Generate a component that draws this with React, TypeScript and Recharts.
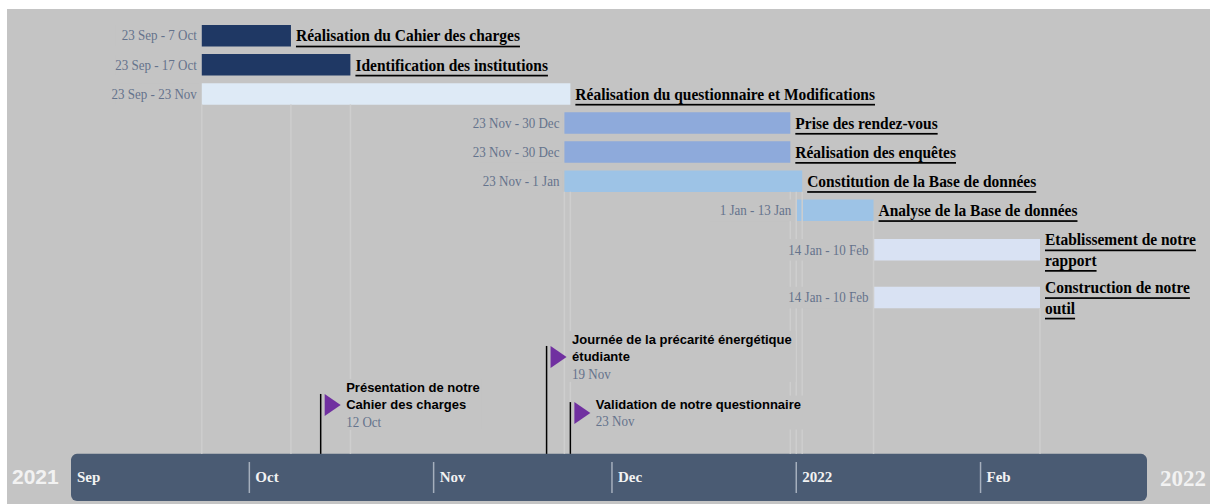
import {
  ComposedChart,
  Bar,
  XAxis,
  YAxis,
  LabelList,
  ReferenceLine,
  ReferenceArea,
  ReferenceDot,
} from "recharts";

// days counted from 1 Sep 2021, the axis runs to 1 Mar 2022
const taskNames = [
  "Réalisation du Cahier des charges",
  "Identification des institutions",
  "Réalisation du questionnaire et Modifications",
  "Prise des rendez-vous",
  "Réalisation des enquêtes",
  "Constitution de la Base de données",
  "Analyse de la Base de données",
  "Etablissement de notre\nrapport",
  "Construction de notre\noutil",
];
const taskDates = [
  "23 Sep - 7 Oct",
  "23 Sep - 17 Oct",
  "23 Sep - 23 Nov",
  "23 Nov - 30 Dec",
  "23 Nov - 30 Dec",
  "23 Nov - 1 Jan",
  "1 Jan - 13 Jan",
  "14 Jan - 10 Feb",
  "14 Jan - 10 Feb",
];
const taskStarts = [22, 22, 22, 83, 83, 83, 122, 135, 135];
const taskEnds = [37, 47, 84, 121, 121, 123, 135, 163, 163];
const taskRows = [1, 2, 3, 4, 5, 6, 7, 8.36, 10];
const taskColors = ["#1F3864", "#1F3864", "#DEEAF6", "#8EAADB", "#8EAADB", "#9DC3E6", "#9DC3E6", "#D9E2F3", "#D9E2F3"];

const gridDays = [22, 37, 47, 83, 84, 121, 122, 123, 135, 163];
const gridFromRows = [3.37, 3.37, 3.37, 6.37, 6.37, 6.37, 6.37, 6.37, 7.37, 10.37];

const milestoneLabels = ["Présentation de notre\nCahier des charges", "Journée de la précarité énergétique\nétudiante", "Validation de notre questionnaire"];
const milestoneDates = ["12 Oct", "19 Nov", "23 Nov"];
const milestoneDays = [42, 80, 84];
const milestoneRows = [13.32, 11.67, 13.6];

const monthTicks = [0, 30, 61, 91, 122, 153];
const monthLabels = ["Sep", "Oct", "Nov", "Dec", "2022", "Feb"];

const BAND_TOP = 15.38;
const BAND_BOTTOM = 17;

const SERIF = "'Liberation Serif', serif";
const SANS = "'Liberation Sans', sans-serif";
const BACKGROUND = "#C4C4C4";
const SLATE = "#64738C";

const tasks = taskNames.map((name, i) => ({
  name,
  row: taskRows[i],
  span: [taskStarts[i], taskEnds[i]],
  fill: taskColors[i],
}));

function TaskName({ x, y, width, height, index }: any) {
  const lines = taskNames[index].split("\n");
  const mid = y + height / 2;
  return (
    <g transform={`translate(${x + width + 5} 0) scale(0.91 1)`}>
      <text
        fontFamily={SERIF}
        fontWeight="bold"
        fontSize={17}
        fill="#000"
        textDecoration="underline"
        dominantBaseline="central"
      >
        {lines.map((line: string, i: number) => (
          <tspan key={i} x={0} y={mid + (i - (lines.length - 1) / 2) * 20.5 + 0.5}>
            {line}
          </tspan>
        ))}
      </text>
    </g>
  );
}

function TaskDate({ x, y, height, index }: any) {
  const label = taskDates[index];
  const mid = y + height / 2;
  return (
    <g>
      <rect x={x - 86} y={y} width={84} height={height} fill={BACKGROUND} />
      <g transform={`translate(${x - 5} 0) scale(0.93 1)`}>
        <text x={0} y={mid} textAnchor="end" fontFamily={SERIF} fontSize={14} fill={SLATE} dominantBaseline="central">
          {label}
        </text>
      </g>
    </g>
  );
}

function Flag({ cx, cy, index }: any) {
  const lines = milestoneLabels[index].split("\n");
  const left = cx + 4;
  const textX = left + 21.5;
  const center = cy + 11;
  const count = lines.length + 1;
  const longest = Math.max(...lines.map((l: string) => l.length));
  const lineY = (i: number) => center + (i - (count - 1) / 2) * 17;
  return (
    <g>
      <rect x={textX - 5} y={lineY(0) - 9} width={longest * 6.3 + 8} height={count * 17} fill={BACKGROUND} />
      <path d={`M${left} ${cy} L${left + 16} ${center} L${left} ${cy + 22} Z`} fill="#7030A0" />
      {lines.map((line: string, i: number) => (
        <text key={i} x={textX} y={lineY(i)} fontFamily={SANS} fontWeight="bold" fontSize={13} fill="#000" dominantBaseline="central">
          {line}
        </text>
      ))}
      <g transform={`translate(${textX} 0) scale(0.93 1)`}>
        <text x={0} y={lineY(lines.length)} fontFamily={SERIF} fontSize={14} fill={SLATE} dominantBaseline="central">
          {milestoneDates[index]}
        </text>
      </g>
    </g>
  );
}

function MonthTick({ x, y, payload, index }: any) {
  const label = monthLabels[monthTicks.indexOf(payload.value)];
  return (
    <g>
      {index > 0 && <line x1={x} x2={x} y1={y - 47} y2={y - 16} stroke="#A5AFBD" strokeWidth={1.5} />}
      <text x={x + 6} y={y - 32} fontFamily={SERIF} fontWeight="bold" fontSize={15} fill="#F2F2F2" dominantBaseline="central">
        {label}
      </text>
    </g>
  );
}

export default function App() {
  return (
    <div style={{ position: "fixed", left: 7, top: 9, width: 1203, height: 495, background: BACKGROUND }}>
      <ComposedChart
        width={1203}
        height={495}
        layout="vertical"
        data={tasks}
        margin={{ top: 12, right: 63, bottom: 2, left: 64 }}
      >
        <ReferenceArea x1={0} x2={181} y1={BAND_TOP} y2={BAND_BOTTOM} fill="#4A5B73" fillOpacity={1} radius={6} stroke="none" />
        <XAxis
          type="number"
          domain={[0, 181]}
          ticks={monthTicks}
          height={1}
          axisLine={false}
          tickLine={false}
          tick={<MonthTick />}
          interval={0}
          allowDataOverflow
        />
        <YAxis type="number" dataKey="row" domain={[0.5, BAND_BOTTOM]} hide allowDataOverflow />
        {gridDays.map((day, i) => (
          <ReferenceLine
            key={day}
            segment={[{ x: day, y: gridFromRows[i] }, { x: day, y: BAND_TOP }]}
            stroke="#CECECE"
            strokeWidth={1.5}
          />
        ))}
        <Bar dataKey="span" barSize={21.5} isAnimationActive={false}>
          <LabelList dataKey="name" content={<TaskDate />} />
          <LabelList dataKey="name" content={<TaskName />} />
        </Bar>
        {milestoneDays.map((day, i) => (
          <ReferenceDot
            key={day}
            x={day}
            y={milestoneRows[i]}
            shape={(props: any) => <Flag {...props} index={i} />}
          />
        ))}
        {milestoneDays.map((day, i) => (
          <ReferenceLine
            key={day}
            segment={[{ x: day, y: milestoneRows[i] }, { x: day, y: BAND_TOP }]}
            stroke="#000"
            strokeWidth={1.5}
          />
        ))}
        <text x={5} y={467} fontFamily={SANS} fontWeight="bold" fontSize={21} fill="#F2F2F2" dominantBaseline="central">2021</text>
        <text x={1153} y={469} fontFamily={SERIF} fontWeight="bold" fontSize={23} fill="#F2F2F2" dominantBaseline="central">2022</text>
      </ComposedChart>
    </div>
  );
}
